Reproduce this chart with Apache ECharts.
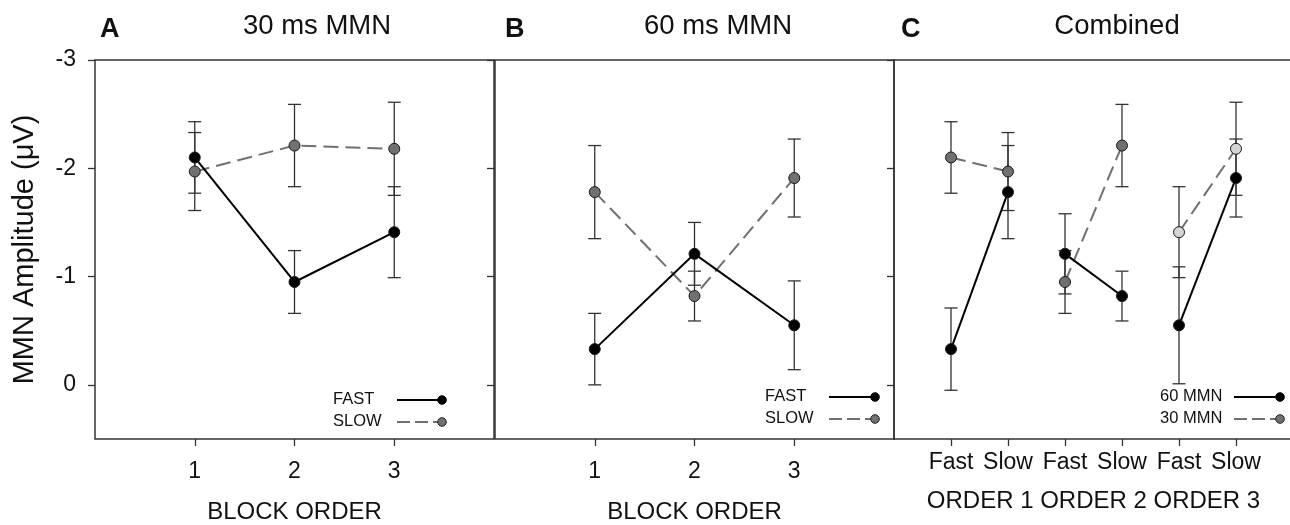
<!DOCTYPE html>
<html>
<head>
<meta charset="utf-8">
<script src="https://cdn.jsdelivr.net/npm/echarts@6/dist/echarts.min.js"></script>
<style>
    html, body { margin: 0; padding: 0; background: #fff; }
    #chart { width: 1290px; height: 525px; }
</style>
</head>
<body>
<div id="chart"></div>
<script>
//MMN 三个面板
const blocks = [1, 2, 3];
const fast30 = [-2.10, -0.95, -1.41];
const fast30Err = [0.33, 0.29, 0.42];
const slow30 = [-1.97, -2.21, -2.18];
const slow30Err = [0.36, 0.38, 0.43];
const fast60 = [-0.33, -1.21, -0.55];
const fast60Err = [0.33, 0.29, 0.41];
const slow60 = [-1.78, -0.82, -1.91];
const slow60Err = [0.43, 0.23, 0.36];
// combined 面板里 60 fast 的误差线比 B 面板长
const fast60ErrC = [0.38, 0.37, 0.54];
const orderLabels = ['Fast', 'Slow', 'Fast', 'Slow', 'Fast', 'Slow'];
const yTicks = [-3, -2, -1, 0];

const font = '"Liberation Sans", Arial, sans-serif';
const axisColor = '#333';
const grey = '#707070';
const lightGrey = '#d4d4d4';

// C 面板右边框在画面外, 所以不画 grid 边框, 用轴线代替
const grids = [
    { left: 95, top: 60, width: 399, height: 379, show: true },
    { left: 495, top: 60, width: 399, height: 379, show: true },
    { left: 894, top: 60, width: 399, height: 379, show: false },
].map(g => ({
    ...g,
    containLabel: false,
    outerBoundsMode: 'none',
    borderColor: axisColor,
    borderWidth: 1.5,
    backgroundColor: 'transparent',
}));

const tickStyle = { color: axisColor, width: 1.3 };
const frameLine = { show: true, onZero: false, lineStyle: { color: axisColor, width: 1.5 } };

//x轴
const xAxisFor = (gridIndex, max, ticks, name, labelMargin, nameGap, formatter, line) => ({
    type: 'value',
    gridIndex,
    min: 0,
    max,
    interval: 1,
    axisLine: line ? frameLine : { show: false, onZero: false },
    splitLine: { show: false },
    axisTick: { show: true, length: 7, lineStyle: tickStyle, customValues: ticks },
    axisLabel: {
        customValues: ticks,
        margin: labelMargin,
        fontSize: 23,
        color: '#111',
        fontFamily: font,
        formatter: formatter || (v => String(v)),
    },
    name,
    nameLocation: 'middle',
    nameGap,
    nameTextStyle: { fontSize: 24, color: '#111', fontFamily: font },
});

//y轴
const yAxisFor = (gridIndex, position, opts) => ({
    type: 'value',
    gridIndex,
    position,
    min: -3,
    max: 0.5,
    interval: 1,
    inverse: true,
    axisLine: opts.line ? frameLine : { show: false, onZero: false },
    splitLine: { show: false },
    axisTick: { show: !!opts.tick, inside: opts.tick === 'inside', length: 7, lineStyle: tickStyle, customValues: yTicks },
    axisLabel: {
        show: !!opts.labels,
        customValues: yTicks,
        margin: 19,
        fontSize: 23,
        color: '#111',
        fontFamily: font,
    },
    name: opts.name || '',
    nameLocation: 'middle',
    nameGap: 56,
    nameRotate: 90,
    nameTextStyle: { fontSize: 29, color: '#111', fontFamily: font },
});

const xAxis = [
    xAxisFor(0, 4, blocks, 'BLOCK ORDER', 21, 61),
    xAxisFor(1, 4, blocks, 'BLOCK ORDER', 21, 61),
    xAxisFor(2, 7, [1, 2, 3, 4, 5, 6], 'ORDER 1 ORDER 2 ORDER 3', 12, 50, v => orderLabels[v - 1], true),
    //C 面板上边框
    {
        type: 'value', gridIndex: 2, position: 'top', min: 0, max: 7,
        axisLine: frameLine, axisTick: { show: false }, axisLabel: { show: false }, splitLine: { show: false },
    },
];

const yAxis = [
    yAxisFor(0, 'left', { tick: 'outside', labels: true, name: 'MMN Amplitude (μV)' }),
    yAxisFor(0, 'right', { tick: 'inside' }),
    yAxisFor(1, 'left', {}),
    yAxisFor(1, 'right', { tick: 'inside' }),
    yAxisFor(2, 'left', { line: true }),
];

//误差线
const renderErr = (params, api) => {
    const x = api.value(0);
    const lo = api.coord([x, api.value(1)]);
    const hi = api.coord([x, api.value(2)]);
    const w = 6.5;
    const style = { stroke: axisColor, lineWidth: 1.3 };
    return {
        type: 'group',
        children: [
            { type: 'line', shape: { x1: lo[0], y1: lo[1], x2: hi[0], y2: hi[1] }, style },
            { type: 'line', shape: { x1: lo[0] - w, y1: lo[1], x2: lo[0] + w, y2: lo[1] }, style },
            { type: 'line', shape: { x1: hi[0] - w, y1: hi[1], x2: hi[0] + w, y2: hi[1] }, style },
        ],
    };
};

const errSeries = (xIdx, yIdx, xs, means, errs) => ({
    type: 'custom',
    xAxisIndex: xIdx,
    yAxisIndex: yIdx,
    renderItem: renderErr,
    encode: { x: 0, y: [1, 2] },
    z: 1,
    silent: true,
    data: xs.map((x, i) => [x, means[i] - errs[i], means[i] + errs[i]]),
});

const solid = { color: '#000', width: 2 };
const dashed = { color: grey, width: 2, type: [15, 7] };

const lineSeries = (name, xIdx, yIdx, data, dash, fill) => ({
    type: 'line',
    name,
    xAxisIndex: xIdx,
    yAxisIndex: yIdx,
    symbol: 'circle',
    symbolSize: 11,
    z: 3,
    lineStyle: dash ? dashed : solid,
    itemStyle: { color: fill, borderColor: '#1a1a1a', borderWidth: 1 },
    data,
});

const pairs = (xs, ys) => xs.map((x, i) => [x, ys[i]]);

const series = [
    errSeries(0, 0, blocks, fast30, fast30Err),
    errSeries(0, 0, blocks, slow30, slow30Err),
    lineSeries('SLOW', 0, 0, pairs(blocks, slow30), true, grey),
    lineSeries('FAST', 0, 0, pairs(blocks, fast30), false, '#000'),

    errSeries(1, 2, blocks, fast60, fast60Err),
    errSeries(1, 2, blocks, slow60, slow60Err),
    lineSeries('SLOW', 1, 2, pairs(blocks, slow60), true, grey),
    lineSeries('FAST', 1, 2, pairs(blocks, fast60), false, '#000'),
];

//combined: 每个 order 一段 fast→slow
blocks.forEach((b, i) => {
    const xs = [2 * b - 1, 2 * b];
    series.push(errSeries(2, 4, xs, [fast30[i], slow30[i]], [fast30Err[i], slow30Err[i]]));
    series.push(errSeries(2, 4, xs, [fast60[i], slow60[i]], [fast60ErrC[i], slow60Err[i]]));
    series.push(lineSeries('30 MMN', 2, 4, pairs(xs, [fast30[i], slow30[i]]), true, i === 2 ? lightGrey : grey));
    series.push(lineSeries('60 MMN', 2, 4, pairs(xs, [fast60[i], slow60[i]]), false, '#000'));
});

//右下角图例
const legend = (x, y, labels) => labels.map((label, i) => ({
    type: 'text',
    left: x,
    top: y + i * 22 - 9,
    style: { text: label, fontSize: 16.5, fill: '#111', fontFamily: font },
}));
const legendMark = (x1, x2, y) => [
    { type: 'line', shape: { x1, y1: y, x2, y2: y }, style: { stroke: '#000', lineWidth: 2 } },
    { type: 'circle', shape: { cx: x2, cy: y, r: 4.3 }, style: { fill: '#000', stroke: '#000' } },
    { type: 'line', shape: { x1, y1: y + 22, x2, y2: y + 22 }, style: { stroke: grey, lineWidth: 2, lineDash: [13, 5] } },
    { type: 'circle', shape: { cx: x2, cy: y + 22, r: 4.3 }, style: { fill: grey, stroke: '#222', lineWidth: 1 } },
];

const graphic = [
    ...legend(333, 400, ['FAST', 'SLOW']),
    ...legendMark(397, 442, 400),
    ...legend(765, 397, ['FAST', 'SLOW']),
    ...legendMark(829, 875, 397),
    ...legend(1160, 397, ['60 MMN', '30 MMN']),
    ...legendMark(1234, 1280, 397),
];

const titleText = (text, left, align, bold) => ({
    text,
    left,
    top: bold ? 30 : 26,
    padding: 0,
    textAlign: align,
    textVerticalAlign: 'middle',
    textStyle: { fontSize: bold ? 27 : 27.5, fontWeight: bold ? 'bold' : 'normal', color: '#111', fontFamily: font },
});

const chart = echarts.init(document.getElementById('chart'));
chart.setOption({
    animation: false,
    backgroundColor: '#fff',
    title: [
        titleText('A', 100, 'left', true),
        titleText('30 ms MMN', 317, 'center'),
        titleText('B', 505, 'left', true),
        titleText('60 ms MMN', 718, 'center'),
        titleText('C', 901, 'left', true),
        titleText('Combined', 1117, 'center'),
    ],
    grid: grids,
    xAxis,
    yAxis,
    series,
    graphic,
});
</script>
</body>
</html>
